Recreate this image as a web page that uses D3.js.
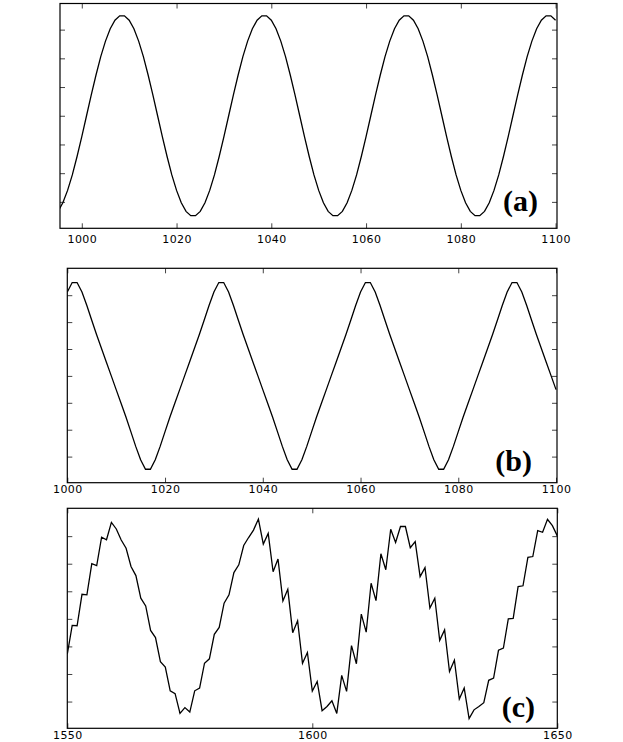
<!DOCTYPE html>
<html><head><meta charset="utf-8">
<script src="https://cdn.jsdelivr.net/npm/d3@7/dist/d3.min.js"></script>
<style>body{margin:0;background:#fff;} svg{display:block;}</style>
</head><body>
<script>
// ---- data ----
const startA = 995;
const seriesA = [
 -3.33,-3.03,-2.60,-2.06,-1.42,-0.73,0.00,0.73,1.42,2.06,2.60,3.03,3.33,3.48,3.48,3.33,3.03,2.60,2.06,1.42,0.73,0.00,-0.73,-1.42,-2.06,-2.60,-3.03,-3.33,-3.48,-3.48,
 -3.33,-3.03,-2.60,-2.06,-1.42,-0.73,0.00,0.73,1.42,2.06,2.60,3.03,3.33,3.48,3.48,3.33,3.03,2.60,2.06,1.42,0.73,0.00,-0.73,-1.42,-2.06,-2.60,-3.03,-3.33,-3.48,-3.48,
 -3.33,-3.03,-2.60,-2.06,-1.42,-0.73,0.00,0.73,1.42,2.06,2.60,3.03,3.33,3.48,3.48,3.33,3.03,2.60,2.06,1.42,0.73,0.00,-0.73,-1.42,-2.06,-2.60,-3.03,-3.33,-3.48,-3.48,
 -3.33,-3.03,-2.60,-2.06,-1.42,-0.73,0.00,0.73,1.42,2.06,2.60,3.03,3.33,3.48,3.48,3.33
];
const startB = 1000;
const seriesB = [
 3.12,3.47,3.47,3.12,2.62,2.07,1.53,1.02,0.51,0.00,-0.51,-1.02,-1.53,-2.07,-2.62,-3.12,-3.47,-3.47,-3.12,-2.62,-2.07,-1.53,-1.02,-0.51,0.00,0.51,1.02,1.53,2.07,2.62,
 3.12,3.47,3.47,3.12,2.62,2.07,1.53,1.02,0.51,0.00,-0.51,-1.02,-1.53,-2.07,-2.62,-3.12,-3.47,-3.47,-3.12,-2.62,-2.07,-1.53,-1.02,-0.51,0.00,0.51,1.02,1.53,2.07,2.62,
 3.12,3.47,3.47,3.12,2.62,2.07,1.53,1.02,0.51,0.00,-0.51,-1.02,-1.53,-2.07,-2.62,-3.12,-3.47,-3.47,-3.12,-2.62,-2.07,-1.53,-1.02,-0.51,0.00,0.51,1.02,1.53,2.07,2.62,
 3.12,3.47,3.47,3.12,2.62,2.07,1.53,1.02,0.51,0.00,-0.51
];
const startC = 1550;
const seriesC = [
 -1.28,-0.24,-0.25,0.89,0.87,2.00,1.93,2.96,2.87,3.50,
 3.26,2.86,2.56,1.90,1.57,0.75,0.47,-0.42,-0.68,-1.55,
 -1.75,-2.61,-2.71,-3.43,-3.22,-3.38,-2.61,-2.51,-1.61,-1.45,
 -0.56,-0.31,0.57,0.87,1.68,1.96,2.66,2.95,3.22,3.62,
 2.71,3.10,1.71,2.17,0.65,1.07,-0.50,-0.07,-1.61,-1.22,
 -2.62,-2.27,-3.33,-3.18,-2.97,-3.43,-2.05,-2.63,-0.97,-1.63,
 0.17,-0.48,1.29,0.66,2.36,1.78,3.25,2.77,3.35,3.35,
 2.58,2.80,1.53,1.86,0.39,0.75,-0.78,-0.40,-1.91,-1.50,
 -2.91,-2.51,-3.62,-3.30,-3.18,-3.04,-2.23,-2.15,-1.14,-1.06,
 0.00,0.02,1.17,1.20,2.23,2.26,3.20,3.14,3.61,3.38,
 3.01
];
const ticksXA = [1000,1020,1040,1060,1080,1100];
const ticksXB = [1000,1020,1040,1060,1080,1100];
const ticksXC = [1550,1600,1650];
const ticksY = [-3,-2,-1,0,1,2,3];
const panelLabels = ["(a)","(b)","(c)"];

// ---- layout ----
const W = 623, H = 742;
const svg = d3.select("body").append("svg").attr("width", W).attr("height", H);

const panels = [
  {start:startA, data:seriesA, xd:[995.4,1100.3], yd:[-3.92,3.91], ticks:ticksXA, label:panelLabels[0],
   x:60, y:3.5, w:497, h:224.8, labBase:15, tx:538, ty:211},
  {start:startB, data:seriesB, xd:[1000,1100.2], yd:[-3.97,4.0], ticks:ticksXB, label:panelLabels[1],
   x:67.3, y:268.3, w:489.7, h:214.4, labBase:10.8, tx:532, ty:471},
  {start:startC, data:seriesC, xd:[1550,1650], yd:[-3.97,4.01], ticks:ticksXC, label:panelLabels[2],
   x:67.3, y:508.3, w:490, h:220, labBase:11.2, tx:535, ty:717}
];

panels.forEach((p, idx) => {
  const g = svg.append("g").attr("transform", `translate(${p.x},${p.y})`);
  const xs = d3.scaleLinear().domain(p.xd).range([0, p.w]);
  const ys = d3.scaleLinear().domain(p.yd).range([p.h, 0]);

  const clipId = "clip" + idx;
  g.append("clipPath").attr("id", clipId).append("rect")
    .attr("x", 0).attr("y", 0).attr("width", p.w).attr("height", p.h);

  const tk = 5;
  const axB = g.append("g").attr("transform", `translate(0,${p.h})`)
    .call(d3.axisBottom(xs).tickValues(p.ticks).tickSizeInner(-tk).tickSizeOuter(0).tickFormat(d3.format("d")));
  axB.selectAll("text").attr("y", 0).attr("dy", p.labBase)
    .style("font-family", "'DejaVu Sans', sans-serif").style("font-size", "11px").attr("fill", "#000")
    .style("letter-spacing", "0.4px");
  g.append("g").call(d3.axisTop(xs).tickValues(p.ticks).tickSizeInner(-tk).tickSizeOuter(0).tickFormat(""));
  g.append("g").call(d3.axisLeft(ys).tickValues(ticksY).tickSizeInner(-tk).tickSizeOuter(0).tickFormat(""));
  g.append("g").attr("transform", `translate(${p.w},0)`)
    .call(d3.axisRight(ys).tickValues(ticksY).tickSizeInner(-tk).tickSizeOuter(0).tickFormat(""));
  g.selectAll(".domain").remove();
  g.selectAll(".tick line").attr("stroke", "#444").attr("stroke-width", 1);

  const line = d3.line()
    .x((d, i) => xs(p.start + i))
    .y(d => ys(d));
  g.append("path").datum(p.data)
    .attr("clip-path", `url(#${clipId})`)
    .attr("fill", "none").attr("stroke", "#000").attr("stroke-width", 1.3)
    .attr("stroke-linejoin", "miter")
    .attr("d", line);

  g.append("rect").attr("x", 0).attr("y", 0).attr("width", p.w).attr("height", p.h)
    .attr("fill", "none").attr("stroke", "#000").attr("stroke-width", 1.2);

  svg.append("text").attr("x", p.tx).attr("y", p.ty)
    .attr("text-anchor", "end")
    .style("font-family", "'Liberation Serif', 'Times New Roman', serif")
    .style("font-weight", "bold").style("font-size", "30px")
    .text(p.label);
});
</script>
</body></html>
